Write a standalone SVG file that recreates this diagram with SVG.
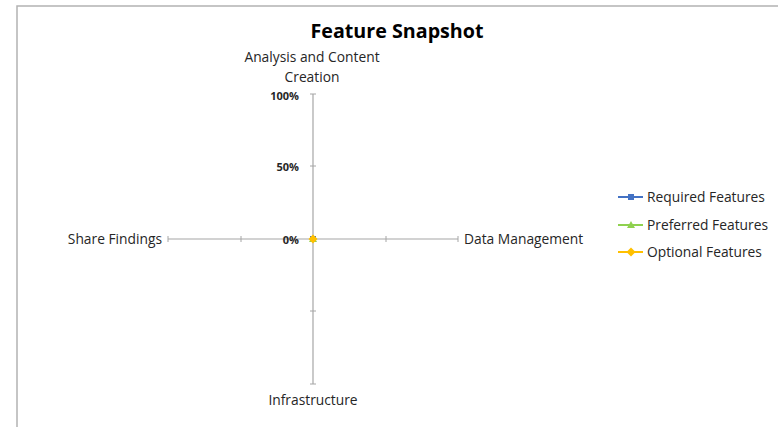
<svg xmlns="http://www.w3.org/2000/svg" width="778" height="427" viewBox="0 0 778 427">
  <style>
    text { font-family: "Open Sans", "Liberation Sans", sans-serif; fill: #262626; }
    .title { font-size: 19.7px; font-weight: bold; fill: #000; }
    .cat { font-size: 13.8px; }
    .pct { font-size: 11px; font-weight: bold; fill: #262626; }
    .leg { font-size: 13.8px; }
    .axis { stroke: #a6a6a6; stroke-width: 1.2; fill: none; }
    .tick { stroke: #a6a6a6; stroke-width: 1; }
    .frame { stroke: #b3b3b3; stroke-width: 1.5; fill: none; }
  </style>
  <defs>
    <rect id="sq" x="-3" y="-3" width="6" height="6" fill="#4472c4"/>
    <polygon id="tri" points="0,-4 4,3 -4,3" fill="#8fd14f"/>
    <polygon id="dia" points="0,-4.5 4.5,0 0,4.5 -4.5,0" fill="#ffc000"/>
  </defs>
  <rect width="778" height="427" fill="#fff"/>
  <!-- chart frame -->
  <path class="frame" d="M17,427 V6 H778"/>

  <text class="title" x="397" y="38" text-anchor="middle">Feature Snapshot</text>

  <!-- radar axes -->
  <g id="connectors">
    <line class="axis" x1="313" y1="94" x2="313" y2="384"/>
    <line class="axis" x1="168" y1="239" x2="458" y2="239"/>
    <g class="tick">
      <line x1="310" y1="94" x2="316" y2="94"/>
      <line x1="310" y1="166" x2="316" y2="166"/>
      <line x1="310" y1="311" x2="316" y2="311"/>
      <line x1="310" y1="384" x2="316" y2="384"/>
      <line x1="168" y1="236" x2="168" y2="242"/>
      <line x1="241" y1="236" x2="241" y2="242"/>
      <line x1="386" y1="236" x2="386" y2="242"/>
      <line x1="458" y1="236" x2="458" y2="242"/>
    </g>
  </g>

  <g id="scale">
    <text class="pct" x="299" y="100" text-anchor="end">100%</text>
    <text class="pct" x="299" y="171" text-anchor="end">50%</text>
    <text class="pct" x="299" y="244" text-anchor="end">0%</text>
  </g>

  <g id="analysis">
    <text class="cat" x="312" y="62" text-anchor="middle">Analysis and Content</text>
    <text class="cat" x="312" y="82" text-anchor="middle">Creation</text>
  </g>
  <g id="data-management"><text class="cat" x="464" y="244">Data Management</text></g>
  <g id="infrastructure"><text class="cat" x="313" y="405" text-anchor="middle">Infrastructure</text></g>
  <g id="share-findings"><text class="cat" x="162" y="244" text-anchor="end">Share Findings</text></g>

  <!-- series points, all at zero -->
  <g id="series">
    <use href="#sq" x="313" y="239"/>
    <use href="#tri" x="313" y="239"/>
    <use href="#dia" x="313" y="239"/>
  </g>

  <g id="legend">
    <g id="leg-required">
      <line x1="618" y1="197" x2="643" y2="197" stroke="#4472c4" stroke-width="2"/>
      <use href="#sq" x="631" y="197"/>
      <text class="leg" x="647" y="202">Required Features</text>
    </g>
    <g id="leg-preferred">
      <line x1="618" y1="225" x2="643" y2="225" stroke="#8fd14f" stroke-width="2"/>
      <use href="#tri" x="631" y="225"/>
      <text class="leg" x="647" y="230">Preferred Features</text>
    </g>
    <g id="leg-optional">
      <line x1="618" y1="252" x2="643" y2="252" stroke="#ffc000" stroke-width="2"/>
      <use href="#dia" x="631" y="252"/>
      <text class="leg" x="647" y="257">Optional Features</text>
    </g>
  </g>
</svg>
